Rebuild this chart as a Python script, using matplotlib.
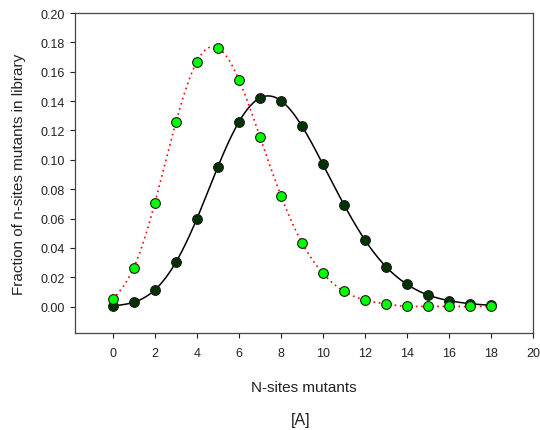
import matplotlib
matplotlib.use("Agg")
import matplotlib.pyplot as plt
import numpy as np
from matplotlib.ticker import FormatStrFormatter

plt.rcParams["font.family"] = ["Liberation Sans", "DejaVu Sans"]

n_sites = np.arange(0, 19)
frac_dark = [0.0005, 0.0030, 0.0114, 0.0302, 0.0599, 0.0953, 0.1258, 0.1421, 0.1403,
             0.1230, 0.0969, 0.0695, 0.0454, 0.0272, 0.0152, 0.0079, 0.0041, 0.0020, 0.0009]
frac_light = [0.0050, 0.0266, 0.0708, 0.1255, 0.1669, 0.1762, 0.1546, 0.1158, 0.0756,
              0.0436, 0.0227, 0.0104, 0.0045, 0.0018, 0.0002, 0.0002, 0.0001, 0.0001, 0.0001]


def natural_spline(x, y, num=400):
    # plain natural cubic spline, just for drawing the smooth line through the points
    x = np.asarray(x, float)
    y = np.asarray(y, float)
    n = len(x)
    h = np.diff(x)
    A = np.zeros((n, n))
    b = np.zeros(n)
    A[0, 0] = A[-1, -1] = 1.0
    for i in range(1, n - 1):
        A[i, i - 1] = h[i - 1]
        A[i, i] = 2 * (h[i - 1] + h[i])
        A[i, i + 1] = h[i]
        b[i] = 3 * ((y[i + 1] - y[i]) / h[i] - (y[i] - y[i - 1]) / h[i - 1])
    c = np.linalg.solve(A, b)
    xs = np.linspace(x[0], x[-1], num)
    idx = np.clip(np.searchsorted(x, xs) - 1, 0, n - 2)
    dx = xs - x[idx]
    bb = (y[idx + 1] - y[idx]) / h[idx] - h[idx] * (2 * c[idx] + c[idx + 1]) / 3
    dd = (c[idx + 1] - c[idx]) / (3 * h[idx])
    return xs, y[idx] + bb * dx + c[idx] * dx ** 2 + dd * dx ** 3


fig = plt.figure(figsize=(5.4, 4.31), dpi=100)
ax = fig.add_axes([0.139, 0.225, 0.848, 0.7425])

xs, ys = natural_spline(n_sites, frac_light)
ax.plot(xs, ys, color="#ff0000", linestyle=(0, (1, 2.2)), linewidth=1.2, zorder=2)
xs, ys = natural_spline(n_sites, frac_dark)
ax.plot(xs, ys, color="black", linewidth=1.1, zorder=2)

ax.plot(n_sites, frac_dark, linestyle="none", marker="o", markersize=7,
        markerfacecolor="#003300", markeredgecolor="#1a1a1a", markeredgewidth=0.8, zorder=3)
ax.plot(n_sites, frac_light, linestyle="none", marker="o", markersize=7,
        markerfacecolor="#00ff00", markeredgecolor="#1a1a1a", markeredgewidth=0.8, zorder=4)

ax.set_xlim(-1.8, 20)
ax.set_ylim(-0.018, 0.2)
ax.set_xticks(np.arange(0, 21, 2))
ax.set_yticks(np.arange(0, 0.201, 0.02))
ax.yaxis.set_major_formatter(FormatStrFormatter("%.2f"))
ax.tick_params(direction="out", length=3.6, width=0.8, labelsize=9, colors="#222222")
ax.tick_params(axis="x", pad=6.5)
ax.tick_params(axis="y", pad=3.5)
for spine in ax.spines.values():
    spine.set_linewidth(0.9)
    spine.set_color("#444444")

ax.set_xlabel("N-sites mutants", fontsize=11, labelpad=15, color="#222222")
ax.set_ylabel("Fraction of n-sites mutants in library", fontsize=11, color="#222222")
ax.yaxis.set_label_coords(-0.108, 0.5)
fig.text(0.557, 0.024, "[A]", ha="center", va="center", fontsize=11.5, color="#222222")

fig.savefig("out.png", dpi=100)
